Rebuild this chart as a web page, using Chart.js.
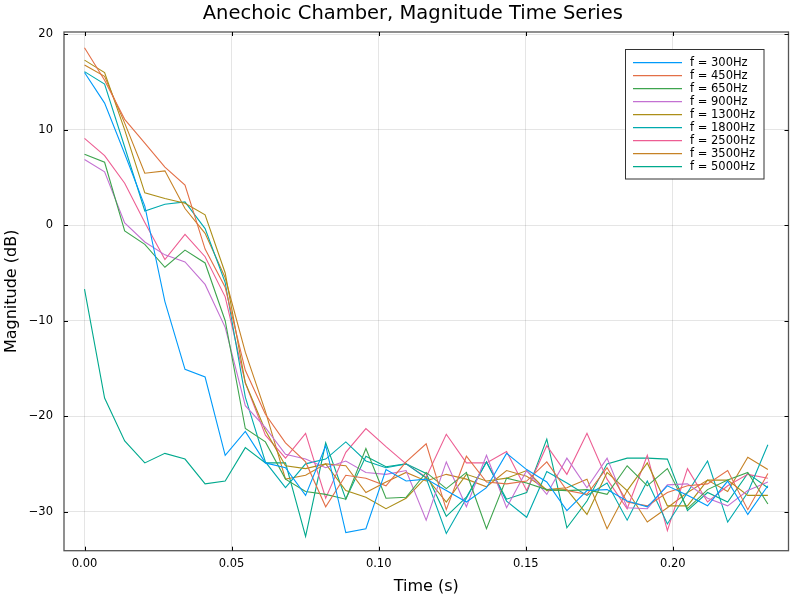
<!DOCTYPE html>
<html>
<head>
<meta charset="utf-8">
<script src="https://cdn.jsdelivr.net/npm/chart.js@4.4.1/dist/chart.umd.min.js"></script>
<style>
  html, body { margin: 0; padding: 0; background: #fff; }
  #wrap { width: 800px; height: 600px; }
</style>
</head>
<body>
<div id="wrap"><canvas id="c" width="800" height="600"></canvas></div>
<script>
const chartTitle = "Anechoic Chamber, Magnitude Time Series";
const xLabel = "Time (s)";
const yLabel = "Magnitude (dB)";
const xTicks = [0.00, 0.05, 0.10, 0.15, 0.20];
const yTicks = [-30, -20, -10, 0, 10, 20];

const times = [0, 0.00683, 0.01366, 0.02050, 0.02733, 0.03416, 0.04099, 0.04782, 0.05466, 0.06149,
  0.06832, 0.07515, 0.08198, 0.08882, 0.09565, 0.10248, 0.10931, 0.11614, 0.12298, 0.12981,
  0.13664, 0.14347, 0.15030, 0.15714, 0.16397, 0.17080, 0.17763, 0.18446, 0.19130, 0.19813,
  0.20496, 0.21179, 0.21862, 0.22546, 0.23229];

const seriesNames = ["f = 300Hz", "f = 450Hz", "f = 650Hz", "f = 900Hz", "f = 1300Hz",
  "f = 1800Hz", "f = 2500Hz", "f = 3500Hz", "f = 5000Hz"];
const seriesColors = ["#009AFA", "#E36F47", "#3EA44E", "#C371D2", "#AC8E18",
  "#00AAAE", "#ED5E93", "#C68225", "#00A98D"];

const mag300 = [16.0, 12.8, 7.5, 2.0, -8.0, -15.1, -15.9, -24.1, -21.6, -24.9, -25.4, -28.3, -23.1, -32.2, -31.8, -25.6, -26.8, -26.6, -27.8, -29.0, -27.5, -23.9, -25.6, -26.9, -29.9, -27.8, -27.7, -28.9, -29.5, -27.3, -28.3, -29.4, -26.8, -30.3, -27.3];
const mag450 = [18.6, 15.2, 11.1, 8.6, 6.1, 4.2, -2.5, -6.5, -15.2, -19.8, -22.8, -24.8, -29.5, -26.2, -26.5, -27.3, -24.8, -22.9, -29.8, -24.2, -26.9, -27.1, -26.8, -24.8, -27.8, -28.2, -25.4, -29.0, -29.4, -28.0, -27.3, -27.1, -25.7, -29.8, -26.0];
const mag650 = [7.45, 6.6, -0.6, -2.0, -4.4, -2.6, -3.95, -10.0, -21.3, -22.7, -26.6, -27.9, -28.2, -28.7, -23.4, -28.6, -28.5, -25.9, -27.6, -25.9, -31.8, -26.5, -27.0, -27.7, -27.8, -27.7, -28.2, -25.2, -27.3, -25.5, -29.7, -27.7, -26.7, -25.9, -29.2];
const mag900 = [6.9, 5.6, 0.25, -1.75, -3.1, -3.85, -6.2, -10.7, -18.9, -21.2, -24.0, -24.5, -25.4, -24.7, -25.9, -26.1, -25.7, -30.9, -24.8, -29.5, -24.1, -29.6, -25.7, -28.2, -24.4, -27.5, -24.4, -29.6, -29.7, -27.2, -27.1, -28.6, -29.4, -27.8, -26.9];
const mag1300 = [17.3, 16.0, 10.0, 3.4, 2.8, 2.3, 1.1, -5.0, -16.5, -21.5, -25.2, -25.5, -25.0, -27.8, -28.5, -29.7, -28.6, -26.4, -29.0, -26.1, -26.8, -26.5, -25.7, -27.8, -27.7, -30.3, -25.9, -27.8, -24.9, -29.4, -29.4, -26.7, -26.7, -28.3, -28.3];
const mag1800 = [16.1, 14.8, 8.2, 1.5, 2.2, 2.45, -0.35, -6.0, -18.0, -24.8, -27.5, -25.0, -24.5, -22.7, -24.7, -25.4, -25.0, -26.5, -32.3, -28.6, -24.8, -28.9, -30.6, -25.8, -27.0, -28.3, -27.0, -30.9, -26.8, -31.3, -28.0, -24.7, -31.1, -28.0, -23.0];
const mag2500 = [9.1, 7.3, 4.4, 0.3, -3.6, -0.95, -3.3, -7.5, -16.5, -22.0, -24.4, -21.8, -28.6, -23.8, -21.3, -23.2, -25.0, -26.4, -21.9, -24.9, -24.9, -23.7, -27.8, -23.1, -26.1, -21.8, -26.6, -29.7, -24.1, -32.0, -25.5, -29.0, -27.3, -26.1, -26.5];
const mag3500 = [16.8, 15.6, 10.7, 5.45, 5.7, 1.75, -0.85, -5.5, -13.3, -19.5, -26.6, -26.2, -25.0, -25.2, -28.0, -26.9, -25.9, -26.8, -26.1, -26.6, -27.4, -25.7, -26.3, -27.7, -27.5, -26.6, -31.8, -27.8, -31.1, -29.6, -28.0, -26.7, -27.9, -24.3, -25.6];
const mag5000 = [-6.7, -18.1, -22.6, -24.9, -23.9, -24.5, -27.1, -26.8, -23.3, -24.9, -24.9, -32.6, -22.8, -28.7, -24.2, -25.3, -25.0, -26.0, -30.5, -28.5, -24.8, -28.7, -28.0, -22.4, -31.7, -28.9, -25.0, -24.4, -24.4, -24.5, -29.9, -28.0, -29.0, -26.0, -27.5];

const allSeries = [mag300, mag450, mag650, mag900, mag1300, mag1800, mag2500, mag3500, mag5000];

const FONT = "'DejaVu Sans', sans-serif";

const datasets = allSeries.map((vals, k) => ({
  label: seriesNames[k],
  data: vals.map((v, i) => ({ x: times[i], y: v })),
  borderColor: seriesColors[k],
  backgroundColor: seriesColors[k],
  borderWidth: 1.1,
  pointRadius: 0,
  tension: 0,
  fill: false
}));

const frameColor = "#555";

const decorPlugin = {
  id: "decor",
  afterDraw(chart) {
    const ctx = chart.ctx;
    const a = chart.chartArea;
    const xs = chart.scales.x, ys = chart.scales.y;
    ctx.save();
    ctx.strokeStyle = frameColor;
    ctx.lineWidth = 1.3;
    ctx.strokeRect(a.left, a.top, a.right - a.left, a.bottom - a.top);
    ctx.strokeStyle = "#000";
    ctx.lineWidth = 1;
    xTicks.forEach(t => {
      const px = Math.round(xs.getPixelForValue(t)) + 0.5;
      ctx.beginPath();
      ctx.moveTo(px, a.bottom); ctx.lineTo(px, a.bottom - 4);
      ctx.moveTo(px, a.top); ctx.lineTo(px, a.top + 4);
      ctx.stroke();
    });
    yTicks.forEach(t => {
      const py = Math.round(ys.getPixelForValue(t)) + 0.5;
      ctx.beginPath();
      ctx.moveTo(a.left, py); ctx.lineTo(a.left + 4, py);
      ctx.moveTo(a.right, py); ctx.lineTo(a.right - 4, py);
      ctx.stroke();
    });
    ctx.fillStyle = "#000";
    ctx.textAlign = "center";
    ctx.textBaseline = "alphabetic";
    ctx.font = "19.5px " + FONT;
    ctx.fillText(chartTitle, 412.8, 18.5);
    ctx.font = "16px " + FONT;
    ctx.fillText(xLabel, (a.left + a.right) / 2, 591);
    ctx.save();
    ctx.translate(16, (a.top + a.bottom) / 2);
    ctx.rotate(-Math.PI / 2);
    ctx.fillText(yLabel, 0, 0);
    ctx.restore();
    const lx = 625.5, ly = 49.5, lw = 138.5, lh = 129.5;
    ctx.fillStyle = "#fff";
    ctx.fillRect(lx, ly, lw, lh);
    ctx.strokeStyle = "#333";
    ctx.lineWidth = 1;
    ctx.strokeRect(lx, ly, lw, lh);
    ctx.font = "11.5px " + FONT;
    ctx.textAlign = "left";
    ctx.textBaseline = "middle";
    chart.data.datasets.forEach((ds, i) => {
      const y = 62.7 + 13 * i;
      ctx.strokeStyle = ds.borderColor;
      ctx.lineWidth = 1.3;
      ctx.beginPath();
      ctx.moveTo(633, y); ctx.lineTo(682, y);
      ctx.stroke();
      ctx.fillStyle = "#000";
      ctx.fillText(ds.label, 690, y);
    });
    ctx.restore();
  }
};

function keepTicks(list) {
  return function (scale) {
    scale.ticks = list.map(v => ({ value: v }));
  };
}

new Chart(document.getElementById("c"), {
  type: "line",
  data: { datasets },
  plugins: [decorPlugin],
  options: {
    responsive: false,
    animation: false,
    devicePixelRatio: 1,
    layout: { padding: { left: 0, right: 11.5, top: 32, bottom: 0 } },
    plugins: {
      legend: { display: false },
      title: { display: false },
      tooltip: { enabled: false }
    },
    scales: {
      x: {
        type: "linear",
        min: -0.00697,
        max: 0.2393,
        afterBuildTicks: keepTicks(xTicks),
        afterFit(scale) { scale.height = 49.3; },
        grid: { color: "rgba(0,0,0,0.1)", lineWidth: 1, drawTicks: false },
        border: { display: false },
        ticks: {
          padding: 6,
          color: "#000",
          font: { family: FONT, size: 11.5 },
          maxRotation: 0,
          callback: v => v.toFixed(2)
        }
      },
      y: {
        type: "linear",
        min: -34.1,
        max: 20.25,
        afterBuildTicks: keepTicks(yTicks),
        afterFit(scale) { scale.width = 64; },
        grid: { color: "rgba(0,0,0,0.1)", lineWidth: 1, drawTicks: false },
        border: { display: false },
        ticks: {
          padding: 11,
          color: "#000",
          font: { family: FONT, size: 11.5 },
          callback: v => (v < 0 ? "\u2212" + Math.abs(v) : String(v))
        }
      }
    }
  }
});
</script>
</body>
</html>
